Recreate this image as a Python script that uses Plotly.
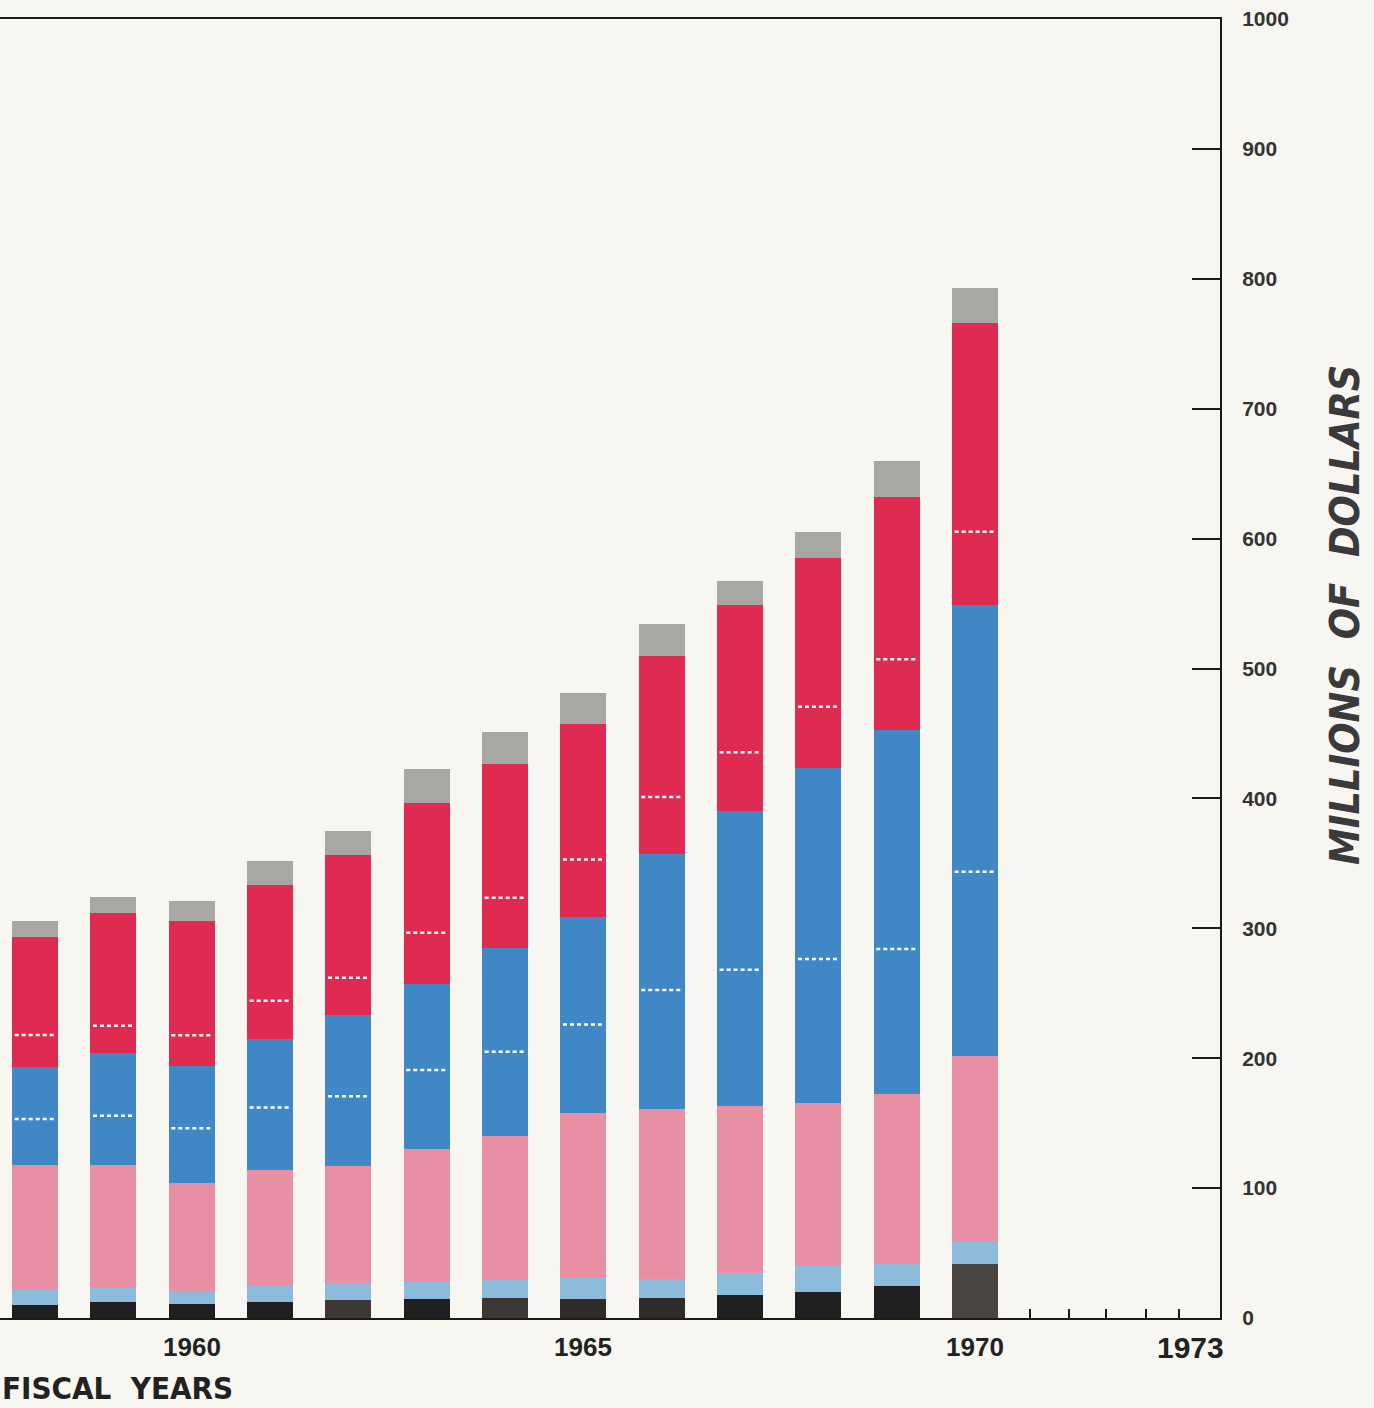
import plotly.graph_objects as go

# ---------------- data (millions of dollars, segment heights) ----------------
years = [1958, 1959, 1960, 1961, 1962, 1963, 1964, 1965, 1966, 1967, 1968, 1969, 1970]

black      = [10.0, 12.5, 10.8, 12.5, 14.0, 15.0, 15.5, 15.0, 15.5, 17.5, 20.0, 24.6, 41.3]
light_blue = [11.6, 10.4,  9.4, 12.0, 12.6, 13.1, 13.9, 16.0, 14.5, 17.0, 20.0, 17.0, 17.4]
pink       = [96.2, 94.9, 83.5, 89.5, 90.4, 101.9, 110.6, 127.0, 131.0, 129.0, 125.3, 130.8, 143.0]
blue_lower = [35.4, 37.9, 42.3, 48.0, 53.7, 61.0, 65.0, 68.0, 91.5, 104.5, 111.1, 111.7, 141.9]
blue_upper = [40.0, 48.1, 48.2, 53.0, 62.3, 66.5, 80.0, 83.0, 105.0, 122.0, 146.8, 168.6, 205.4]
red_lower  = [24.7, 21.2, 23.4, 29.2, 29.0, 39.1, 38.6, 44.0, 43.5, 45.5, 47.4, 54.4, 56.3]
red_upper  = [75.4, 86.6, 88.3, 88.8, 94.4, 100.1, 102.7, 104.0, 108.6, 113.7, 114.2, 124.7, 160.4]
gray       = [12.3, 12.7, 15.1, 18.6, 18.6, 25.8, 25.2, 24.0, 24.8, 18.5, 20.2, 27.9, 27.0]

x_label_text = ["1960", "1965", "1970", "1973"]
x_label_pos  = [1960, 1965, 1970, 1972.75]
x_minor_ticks = [1970.7, 1971.2, 1971.67, 1972.18, 1972.6]
y_ticks = list(range(0, 1001, 100))

# ---------------- styles ----------------
black_colors = ["#221f20", "#221f20", "#221f20", "#221f20", "#3d3836", "#221f20", "#3d3836",
                "#2f2b2a", "#2f2b2a", "#221f20", "#221f20", "#221f20", "#4a4542"]
C_LIGHT_BLUE = "#8dbbdc"
C_PINK = "#e98fa3"
C_BLUE = "#3f88c5"
C_RED = "#df2a52"
C_GRAY = "#a9a7a4"
BG = "#f8f6f0"
BAR_W = 0.59

fig = go.Figure()

stack = [
    (black, black_colors),
    (light_blue, C_LIGHT_BLUE),
    (pink, C_PINK),
    (blue_lower, C_BLUE),
    (blue_upper, C_BLUE),
    (red_lower, C_RED),
    (red_upper, C_RED),
    (gray, C_GRAY),
]
for vals, col in stack:
    fig.add_trace(go.Bar(x=years, y=vals, width=BAR_W,
                         marker=dict(color=col, line=dict(width=0)),
                         showlegend=False, hoverinfo="skip"))

# white dashed sub-divisions inside blue and red segments
cum_blue_div = [a + b + c + d for a, b, c, d in zip(black, light_blue, pink, blue_lower)]
cum_red_div = [v + bu + rl for v, bu, rl in zip(cum_blue_div, blue_upper, red_lower)]
for boundary in (cum_blue_div, cum_red_div):
    xs, ys = [], []
    for yr, v in zip(years, boundary):
        xs += [yr - 0.26, yr + 0.26, None]
        ys += [v, v, None]
    fig.add_trace(go.Scatter(x=xs, y=ys, mode="lines",
                             line=dict(color="white", width=2.5, dash="4px,3px"),
                             showlegend=False, hoverinfo="skip"))

# x labels
annotations = []
for txt, pos in zip(x_label_text, x_label_pos):
    annotations.append(dict(x=pos, y=0, xref="x", yref="y", yshift=-29,
                            text="<b>%s</b>" % txt, showarrow=False,
                            font=dict(family="Liberation Sans, Arial, sans-serif",
                                      size=30 if txt == "1973" else 26, color="#222222"),
                            xanchor="center", yanchor="middle"))

annotations.append(dict(x=0, xref="paper", y=-(1408 - 1318) / 1299, yref="paper",
                        text="<b>FISCAL  YEARS</b>", showarrow=False,
                        font=dict(family="DejaVu Sans Condensed, Liberation Sans, sans-serif",
                                  size=31, color="#222222"),
                        xanchor="left", yanchor="bottom"))

annotations.append(dict(x=1.103, xref="paper", y=541, yref="y",
                        text="<b><i>MILLIONS  OF  DOLLARS</i></b>", showarrow=False,
                        textangle=-90,
                        font=dict(family="DejaVu Sans Condensed, Liberation Sans, sans-serif",
                                  size=41, color="#3a3a3a"),
                        xanchor="center", yanchor="middle"))

fig.update_layout(
    width=1374, height=1408,
    margin=dict(l=0, r=154, t=19, b=90),
    barmode="stack",
    paper_bgcolor=BG, plot_bgcolor=BG,
    showlegend=False,
    annotations=annotations,
    xaxis=dict(range=[1957.553, 1973.128], showgrid=False, zeroline=False,
               showline=True, linecolor="#1a1a1a", linewidth=2, mirror=True,
               tickvals=x_minor_ticks, ticks="inside", ticklen=9, tickwidth=2,
               tickcolor="#1a1a1a", showticklabels=False),
    yaxis=dict(range=[0, 1000], side="right", showgrid=False, zeroline=False,
               showline=True, linecolor="#1a1a1a", linewidth=2,
               tickvals=y_ticks, ticktext=[str(v) for v in y_ticks],
               ticks="inside", ticklen=28, tickwidth=2, tickcolor="#1a1a1a",
               ticklabelstandoff=16,
               tickfont=dict(family="Liberation Sans, Arial, sans-serif", size=21,
                             color="#333333", weight="bold")),
)

fig.write_html("out.html",
               config={"displayModeBar": False},
               post_script="document.body.style.margin='0px';document.body.style.padding='0px';")
